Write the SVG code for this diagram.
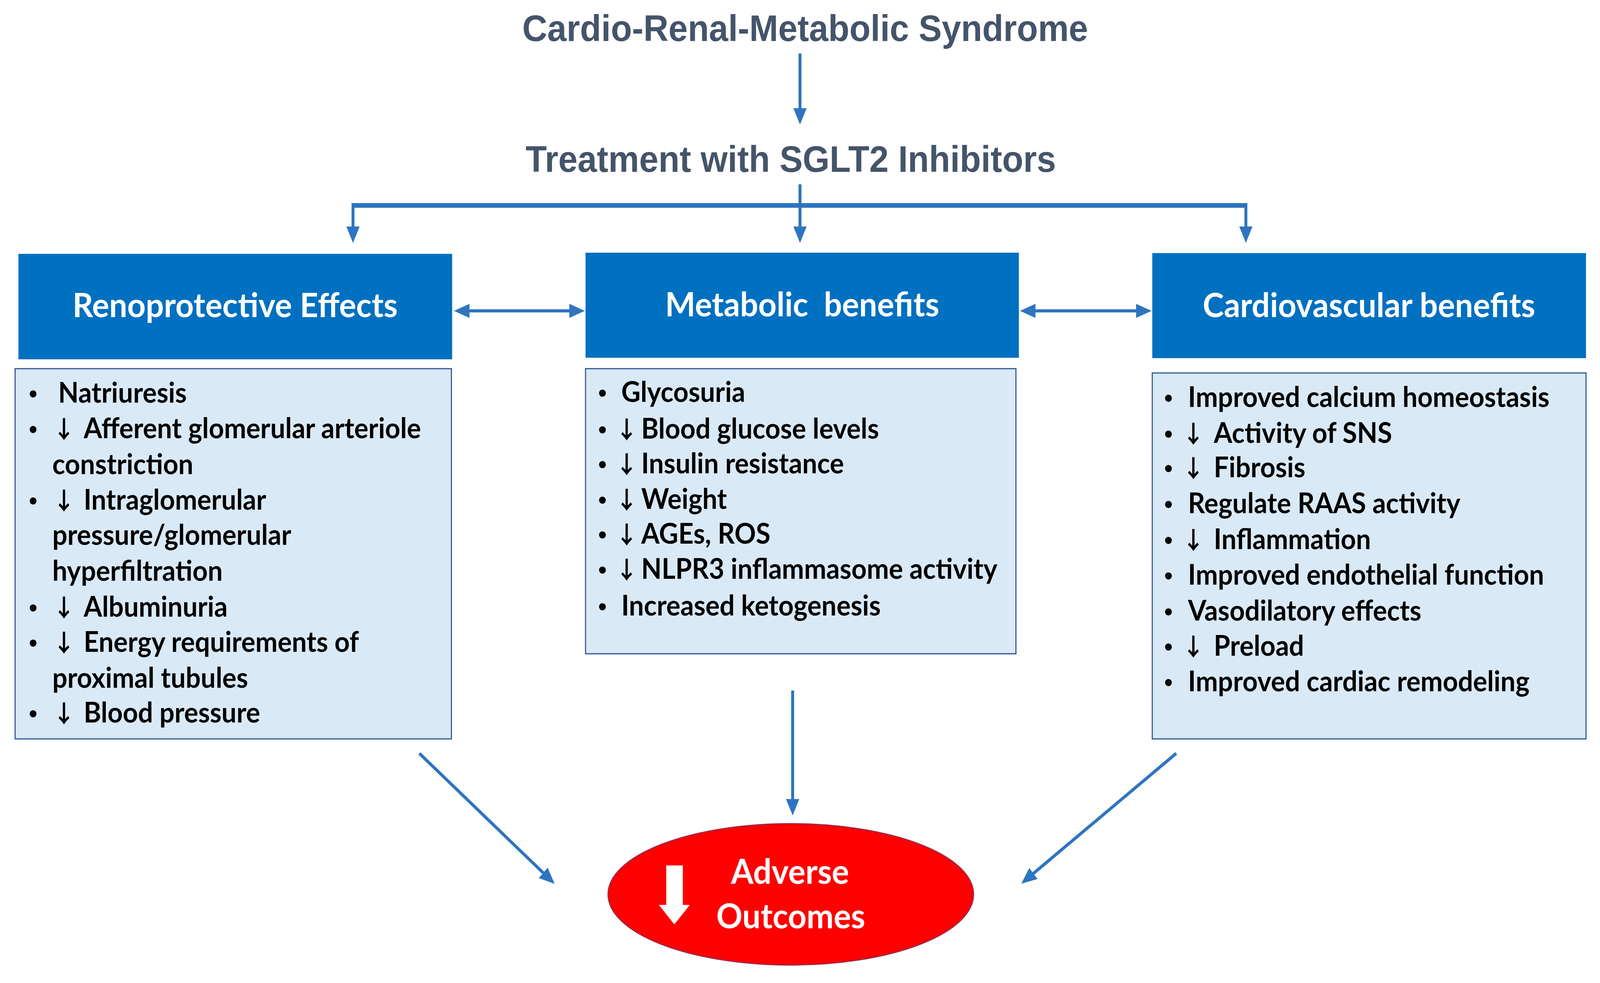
<svg xmlns="http://www.w3.org/2000/svg" width="4342" height="2517" viewBox="0 0 4342 2517" preserveAspectRatio="none" style="width:100%;height:100%;display:block">
<defs>
<style>
.title{font-family:"Liberation Sans",Arial,sans-serif;font-weight:bold;font-size:94px;fill:#44546A;text-anchor:middle}
.hdr{fill:#0070C0}
.hdrt{font-family:Lato,"Open Sans",sans-serif;font-weight:bold;font-size:87px;fill:#FFFFFF;text-anchor:middle}
.box{fill:#DAE9F6;stroke:#2F5597;stroke-width:3}
.li{font-family:Lato,"Open Sans",sans-serif;font-weight:bold;font-size:72px;fill:#000000}
.ar{font-family:"Noto Sans CJK SC","Noto Sans CJK JP","DejaVu Sans",sans-serif;font-weight:bold;font-size:61px}
.bu{font-family:"Liberation Sans",Arial,sans-serif;font-weight:normal;font-size:68px}
.con{stroke:#2E74C0;stroke-width:8;fill:none}
.thick{stroke-width:12}
.outt{font-family:Lato,"Open Sans",sans-serif;font-weight:bold;font-size:88px;fill:#FFFFFF;text-anchor:middle}
</style>
<marker id="ah" markerUnits="userSpaceOnUse" markerWidth="42" markerHeight="36" refX="12" refY="18" orient="auto-start-reverse">
<path d="M0,0 L42,18 L0,36 z" fill="#2E74C0"/>
</marker>
</defs>
<rect width="4342" height="2517" fill="#FFFFFF"/>

<g id="title1"><text class="title" x="2185" y="105">Cardio-Renal-Metabolic Syndrome</text></g>
<g id="title2"><text class="title" x="2146" y="440">Treatment with SGLT2 Inhibitors</text></g>

<g id="connectors">
<line class="con" x1="2171" y1="137" x2="2171" y2="289" marker-end="url(#ah)"/>
<line class="con thick" x1="958" y1="526" x2="3381" y2="526"/>
<line class="con" x1="2171" y1="472" x2="2171" y2="592" marker-end="url(#ah)"/>
<line class="con" x1="958" y1="520" x2="958" y2="592" marker-end="url(#ah)"/>
<line class="con" x1="3381" y1="520" x2="3381" y2="592" marker-end="url(#ah)"/>
<line class="con" x1="1262" y1="796" x2="1557" y2="796" stroke-width="11" marker-start="url(#ah)" marker-end="url(#ah)"/>
<line class="con" x1="2798" y1="796" x2="3095" y2="796" stroke-width="11" marker-start="url(#ah)" marker-end="url(#ah)"/>
<line class="con" x1="1138" y1="1929" x2="1483" y2="2243" stroke-width="9" marker-end="url(#ah)"/>
<line class="con" x1="2151" y1="1768" x2="2151" y2="2058" stroke-width="9" marker-end="url(#ah)"/>
<line class="con" x1="3192" y1="1929" x2="2795" y2="2244" stroke-width="9" marker-end="url(#ah)"/>
</g>

<g id="reno-header">
<rect class="hdr" x="50" y="650" width="1177" height="270"/>
<text class="hdrt" x="638" y="812">Renoprotective Effects</text>
</g>
<g id="meta-header">
<rect class="hdr" x="1589" y="647" width="1176" height="269"/>
<text class="hdrt" x="2177" y="810" xml:space="preserve">Metabolic  benefits</text>
</g>
<g id="cardio-header">
<rect class="hdr" x="3127" y="648" width="1177" height="269"/>
<text class="hdrt" x="3715" y="812">Cardiovascular benefits</text>
</g>

<g id="reno-list">
<rect class="box" x="41" y="944" width="1184" height="948"/>
<text class="li" y="1031"><tspan class="bu" x="78">•</tspan><tspan x="158">Natriuresis</tspan></text>
<text class="li" y="1122"><tspan class="bu" x="78">•</tspan><tspan class="ar" x="143">↓</tspan><tspan x="227">Afferent glomerular arteriole</tspan></text>
<text class="li" x="142" y="1214">constriction</text>
<text class="li" y="1305"><tspan class="bu" x="78">•</tspan><tspan class="ar" x="143">↓</tspan><tspan x="227">Intraglomerular</tspan></text>
<text class="li" x="142" y="1395">pressure/glomerular</text>
<text class="li" x="142" y="1487">hyperfiltration</text>
<text class="li" y="1579"><tspan class="bu" x="78">•</tspan><tspan class="ar" x="143">↓</tspan><tspan x="227">Albuminuria</tspan></text>
<text class="li" y="1669"><tspan class="bu" x="78">•</tspan><tspan class="ar" x="143">↓</tspan><tspan x="227">Energy requirements of</tspan></text>
<text class="li" x="142" y="1761">proximal tubules</text>
<text class="li" y="1850"><tspan class="bu" x="78">•</tspan><tspan class="ar" x="143">↓</tspan><tspan x="227">Blood pressure</tspan></text>
</g>

<g id="meta-list">
<rect class="box" x="1589" y="944" width="1168" height="730"/>
<text class="li" y="1029"><tspan class="bu" x="1623">•</tspan><tspan x="1686">Glycosuria</tspan></text>
<text class="li" y="1123"><tspan class="bu" x="1623">•</tspan><tspan class="ar" x="1670">↓</tspan><tspan x="1740">Blood glucose levels</tspan></text>
<text class="li" y="1212"><tspan class="bu" x="1623">•</tspan><tspan class="ar" x="1670">↓</tspan><tspan x="1740">Insulin resistance</tspan></text>
<text class="li" y="1303"><tspan class="bu" x="1623">•</tspan><tspan class="ar" x="1670">↓</tspan><tspan x="1740">Weight</tspan></text>
<text class="li" y="1392"><tspan class="bu" x="1623">•</tspan><tspan class="ar" x="1670">↓</tspan><tspan x="1740">AGEs, ROS</tspan></text>
<text class="li" y="1482"><tspan class="bu" x="1623">•</tspan><tspan class="ar" x="1670">↓</tspan><tspan x="1740">NLPR3 inflammasome activity</tspan></text>
<text class="li" y="1576"><tspan class="bu" x="1623">•</tspan><tspan x="1686">Increased ketogenesis</tspan></text>
</g>

<g id="cardio-list">
<rect class="box" x="3127" y="955" width="1177" height="937"/>
<text class="li" y="1042"><tspan class="bu" x="3159">•</tspan><tspan x="3224">Improved calcium homeostasis</tspan></text>
<text class="li" y="1134"><tspan class="bu" x="3159">•</tspan><tspan class="ar" x="3208">↓</tspan><tspan x="3294">Activity of SNS</tspan></text>
<text class="li" y="1222"><tspan class="bu" x="3159">•</tspan><tspan class="ar" x="3208">↓</tspan><tspan x="3294">Fibrosis</tspan></text>
<text class="li" y="1314"><tspan class="bu" x="3159">•</tspan><tspan x="3224">Regulate RAAS activity</tspan></text>
<text class="li" y="1406"><tspan class="bu" x="3159">•</tspan><tspan class="ar" x="3208">↓</tspan><tspan x="3294">Inflammation</tspan></text>
<text class="li" y="1497"><tspan class="bu" x="3159">•</tspan><tspan x="3224">Improved endothelial function</tspan></text>
<text class="li" y="1589"><tspan class="bu" x="3159">•</tspan><tspan x="3224">Vasodilatory effects</tspan></text>
<text class="li" y="1679"><tspan class="bu" x="3159">•</tspan><tspan class="ar" x="3208">↓</tspan><tspan x="3294">Preload</tspan></text>
<text class="li" y="1770"><tspan class="bu" x="3159">•</tspan><tspan x="3224">Improved cardiac remodeling</tspan></text>
</g>

<g id="outcomes">
<ellipse cx="2146" cy="2290" rx="496" ry="181" fill="#FF0000" stroke="#9E2A4A" stroke-width="3"/>
<polygon points="1808,2216 1853,2216 1853,2317 1872,2317 1830,2367 1788,2317 1808,2317" fill="#FFFFFF"/>
<text class="outt" x="2144" y="2263">Adverse</text>
<text class="outt" x="2146" y="2377">Outcomes</text>
</g>
</svg>
